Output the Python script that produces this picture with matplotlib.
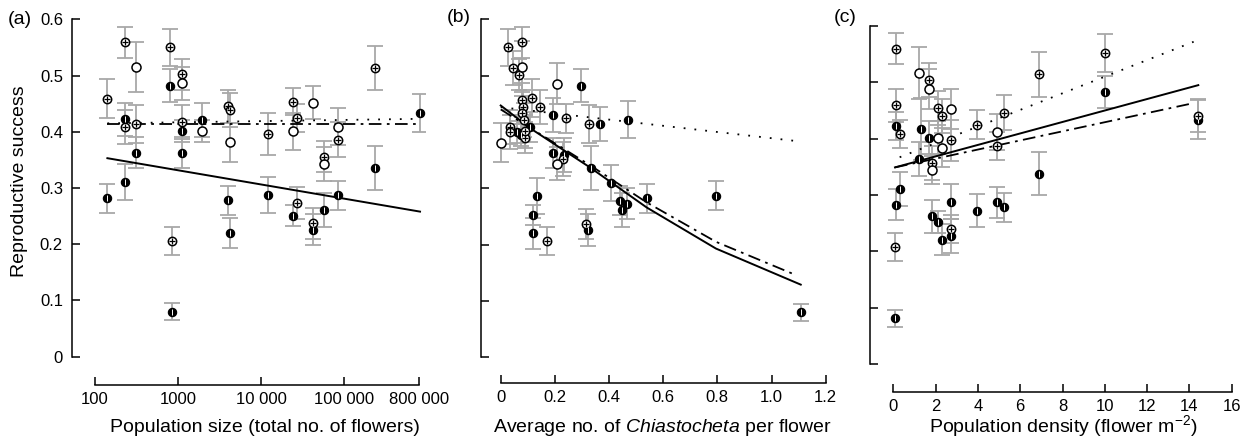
import matplotlib.pyplot as plt
import numpy as np

plt.rcParams['font.family'] = ['Liberation Sans', 'DejaVu Sans']
plt.rcParams['mathtext.fontset'] = 'custom'
plt.rcParams['mathtext.rm'] = 'Liberation Sans'
plt.rcParams['mathtext.it'] = 'Liberation Sans:italic'

# ---- data ----
# kinds: f = filled, c = crossed circle, o = open circle

# (a) population size
pop_size = [141, 141, 230, 230, 230, 230, 312, 312, 312, 802, 802, 839, 839,
            1127, 1127, 1127, 1127, 1127, 1927, 1927, 3960, 4240, 4240, 3960,
            4240, 12000, 12000, 24100, 26900, 24100, 26900, 24100, 42700, 42700,
            42700, 57400, 57400, 57400, 85500, 85500, 85500, 236000, 236000, 824000]
rs_a = [0.459, 0.282, 0.559, 0.422, 0.408, 0.310, 0.515, 0.414, 0.363, 0.550,
        0.482, 0.206, 0.080, 0.502, 0.486, 0.417, 0.401, 0.363, 0.421, 0.401,
        0.445, 0.439, 0.381, 0.278, 0.220, 0.396, 0.287, 0.453, 0.424, 0.401,
        0.273, 0.251, 0.452, 0.237, 0.226, 0.356, 0.343, 0.261, 0.409, 0.386,
        0.287, 0.513, 0.336, 0.433]
err_a = [0.034, 0.026, 0.028, 0.030, 0.030, 0.032, 0.045, 0.034, 0.027, 0.033,
         0.029, 0.025, 0.015, 0.028, 0.030, 0.030, 0.020, 0.027, 0.030, 0.020,
         0.030, 0.030, 0.035, 0.026, 0.027, 0.038, 0.032, 0.024, 0.025, 0.033,
         0.028, 0.018, 0.029, 0.027, 0.028, 0.027, 0.030, 0.030, 0.033, 0.031,
         0.026, 0.039, 0.039, 0.034]
kind_a = list("cfcfcf" "ocf" "cfcf" "coc" "fff" "o" "cco" "ff" "cf" "cco"
              "cf" "ocf" "cof" "ocf" "cff")

# fitted lines (a)
line_a_x = [141, 824000]
solid_a = [0.353, 0.258]
dotted_a = [0.415, 0.423]
dashdot_a = [0.413, 0.413]

# (b) average no. of Chiastocheta per flower
chia = [0.028, 0.080, 0.047, 0.079, 0.069, 0.207, 0.295, 0.114, 0.145, 0.077,
        0.083, 0.080, 0.085, 0.192, 0.241, 0.327, 0.367, 0.471, 0.034, 0.036,
        0.000, 0.059, 0.108, 0.090, 0.192, 0.235, 0.230, 0.207, 0.333, 0.407,
        0.441, 0.465, 0.449, 0.539, 0.795, 0.135, 0.120, 0.120, 0.170, 0.315,
        0.323, 1.108, 0.088, 0.075]
rs_b = [0.550, 0.559, 0.513, 0.516, 0.502, 0.486, 0.482, 0.460, 0.445, 0.457,
        0.445, 0.433, 0.421, 0.430, 0.424, 0.414, 0.414, 0.422, 0.409, 0.400,
        0.381, 0.400, 0.409, 0.390, 0.363, 0.359, 0.352, 0.344, 0.336, 0.310,
        0.278, 0.273, 0.262, 0.282, 0.287, 0.287, 0.252, 0.220, 0.206, 0.237,
        0.226, 0.080, 0.401, 0.395]
err_b = [0.033, 0.028, 0.030, 0.045, 0.028, 0.036, 0.029, 0.034, 0.030, 0.030,
         0.030, 0.030, 0.030, 0.030, 0.025, 0.034, 0.030, 0.033, 0.030, 0.030,
         0.035, 0.020, 0.027, 0.027, 0.027, 0.030, 0.030, 0.030, 0.039, 0.032,
         0.026, 0.028, 0.030, 0.026, 0.026, 0.032, 0.018, 0.027, 0.025, 0.027,
         0.028, 0.015, 0.030, 0.020]
kind_b = list("cccoc" "ofccc" "cccfc" "cffcc" "offcf" "fcoff" "fffff" "fffcc" "ffcf")

# fitted lines (b)
solid_b_x = [0.0, 0.114, 0.333, 0.539, 0.795, 1.108]
solid_b = [0.447, 0.405, 0.336, 0.266, 0.193, 0.129]
dashdot_b_x = [0.0, 0.333, 0.539, 0.795, 1.08]
dashdot_b = [0.440, 0.340, 0.275, 0.205, 0.148]
dotted_b_x = [0.0, 1.09]
dotted_b = [0.444, 0.384]

# (c) population density
density = [0.13, 0.13, 0.13, 0.32, 0.32, 0.13, 0.10, 0.10, 1.23, 1.70, 1.70,
           1.29, 1.70, 1.23, 2.10, 2.32, 2.73, 2.10, 2.32, 2.73, 1.81, 1.81,
           1.81, 2.10, 2.32, 2.73, 2.73, 2.73, 3.97, 3.97, 4.92, 4.92, 5.23,
           4.92, 5.23, 6.90, 6.90, 10.01, 10.01, 14.42, 14.42]
rs_c = [0.560, 0.459, 0.423, 0.409, 0.311, 0.283, 0.207, 0.081, 0.516, 0.504,
        0.488, 0.418, 0.402, 0.364, 0.455, 0.440, 0.453, 0.402, 0.384, 0.397,
        0.357, 0.345, 0.262, 0.252, 0.221, 0.288, 0.239, 0.227, 0.425, 0.272,
        0.411, 0.387, 0.446, 0.287, 0.278, 0.514, 0.338, 0.552, 0.483, 0.434,
        0.441]
err_c = [0.028, 0.030, 0.025, 0.025, 0.030, 0.027, 0.025, 0.015, 0.046, 0.030,
         0.035, 0.055, 0.030, 0.030, 0.030, 0.030, 0.035, 0.030, 0.035, 0.037,
         0.030, 0.025, 0.030, 0.020, 0.027, 0.031, 0.025, 0.030, 0.026, 0.029,
         0.032, 0.025, 0.031, 0.027, 0.026, 0.040, 0.038, 0.033, 0.029, 0.034,
         0.030]
kind_c = list("ccfcf" "fcfoc" "offfc" "coooc" "cofff" "fcfcf" "occff" "cfcff" "c")

# fitted lines (c)
line_c_x = [0.08, 14.42]
solid_c = [0.349, 0.495]
dashdot_c_x = [0.08, 14.18]
dashdot_c = [0.349, 0.463]
dotted_c_x = [0.3, 14.2]
dotted_c = [0.367, 0.572]

yticks = [0, 0.1, 0.2, 0.3, 0.4, 0.5, 0.6]
ERR_COLOR = '#a8a8a8'


def draw_points(ax, x, y, err, kinds):
    x = np.asarray(x, float)
    y = np.asarray(y, float)
    kinds = np.asarray(kinds)
    ax.errorbar(x, y, yerr=err, fmt='none', ecolor=ERR_COLOR, elinewidth=1.3,
                capsize=5.8, capthick=1.3, zorder=2)
    f = kinds == 'f'
    ax.plot(x[f], y[f], 'o', ms=6, mfc='black', mec='black', mew=0.8, zorder=4)
    ax.plot(x[f], y[f], '|', ms=5, color='white', mew=0.7, zorder=5)
    c = kinds == 'c'
    ax.plot(x[c], y[c], 'o', ms=6, mfc='white', mec='black', mew=1.1, zorder=4)
    ax.plot(x[c], y[c], '+', ms=5, color='black', mew=0.9, zorder=5)
    o = kinds == 'o'
    ax.plot(x[o], y[o], 'o', ms=6.5, mfc='white', mec='black', mew=1.1, zorder=4)


def style_axis(ax, xb, offset):
    for s in ['top', 'right']:
        ax.spines[s].set_visible(False)
    ax.spines['left'].set_bounds(0, 0.6)
    ax.spines['bottom'].set_bounds(*xb)
    ax.spines['bottom'].set_position(('outward', offset))
    for s in ['left', 'bottom']:
        ax.spines[s].set_linewidth(1.1)
    ax.set_ylim(0, 0.6)
    ax.set_yticks(yticks)
    ax.tick_params(direction='in', length=5.5, width=1.1, labelsize=12)
    ax.tick_params(axis='y', pad=6.5)
    ax.tick_params(axis='x', pad=5.0)
    ax.minorticks_off()


def place_xlabel(ax, text, xfrac, bottom_px, height_px, baseline_px=432):
    ax.set_xlabel(text, fontsize=14, va='baseline')
    ax.xaxis.set_label_coords(xfrac, (bottom_px - baseline_px) / height_px)


W, H = 1247, 438
fig = plt.figure(figsize=(W / 100, H / 100), dpi=100)

# (a)  y=0 at 356.7 px, y=0.6 at 19.3 px
ax1 = fig.add_axes([72 / W, (H - 356.7) / H, 353 / W, 337.4 / H])
ax1.set_xscale('log')
ax1.set_xlim(10 ** (2 - 23 / 83), 10 ** (2 + 330 / 83))
draw_points(ax1, pop_size, rs_a, err_a, kind_a)
ax1.plot(line_a_x, solid_a, color='black', lw=1.4, zorder=3)
ax1.plot(line_a_x, dotted_a, color='black', lw=1.3, ls=(0, (1, 5)), zorder=3)
ax1.plot(line_a_x, dashdot_a, color='black', lw=1.3, ls=(0, (7, 3, 1.5, 3)), zorder=3)
style_axis(ax1, (100, 800000), 20.4)
ax1.set_xticks([100, 1000, 10000, 100000, 800000])
ax1.set_xticklabels(['100', '1000', '10 000', '100 000', '800 000'])
ax1.minorticks_off()
ax1.set_yticklabels(['0', '0.1', '0.2', '0.3', '0.4', '0.5', '0.6'])
place_xlabel(ax1, 'Population size (total no. of flowers)', 0.547, 356.7, 337.4)
ax1.set_ylabel('Reproductive success', fontsize=14)
ax1.yaxis.set_label_coords(-0.125, 0.52)

# (b)
ax2 = fig.add_axes([481 / W, (H - 357.3) / H, 349 / W, 338 / H])
ax2.set_xlim((481 - 500.7) / 270.8, (830 - 500.7) / 270.8)
draw_points(ax2, chia, rs_b, err_b, kind_b)
ax2.plot(solid_b_x, solid_b, color='black', lw=1.4, zorder=3)
ax2.plot(dashdot_b_x, dashdot_b, color='black', lw=1.3, ls=(0, (7, 3, 1.5, 3)), zorder=3)
ax2.plot(dotted_b_x, dotted_b, color='black', lw=1.3, ls=(0, (1, 5)), zorder=3)
style_axis(ax2, (0, 1.2), 18.3)
ax2.set_xticks([0, 0.2, 0.4, 0.6, 0.8, 1.0, 1.2])
ax2.set_xticklabels(['0', '0.2', '0.4', '0.6', '0.8', '1.0', '1.2'])
ax2.set_yticklabels([])
place_xlabel(ax2, 'Average no. of $\\it{Chiastocheta}$ per flower', 0.52, 357.3, 338)

# (c)  sits a few pixels lower than (a) and (b)
ax3 = fig.add_axes([870 / W, (H - 364) / H, 365 / W, 338 / H])
ax3.set_xlim((870 - 893.3) / 21.15, (1235 - 893.3) / 21.15)
draw_points(ax3, density, rs_c, err_c, kind_c)
ax3.plot(line_c_x, solid_c, color='black', lw=1.4, zorder=3)
ax3.plot(dashdot_c_x, dashdot_c, color='black', lw=1.3, ls=(0, (7, 3, 1.5, 3)), zorder=3)
ax3.plot(dotted_c_x, dotted_c, color='black', lw=1.3, ls=(0, (1, 5)), zorder=3)
style_axis(ax3, (0, 16), 19.9)
ax3.set_xticks(range(0, 17, 2))
ax3.set_yticklabels([])
place_xlabel(ax3, 'Population density (flower m$^{-2}$)', 0.529, 364, 338)

# panel letters
fig.text(8 / W, 1 - 20 / H, '(a)', fontsize=14, va='center')
fig.text(447 / W, 1 - 18 / H, '(b)', fontsize=14, va='center')
fig.text(834 / W, 1 - 18 / H, '(c)', fontsize=14, va='center')

fig.savefig('out.png', dpi=100)
